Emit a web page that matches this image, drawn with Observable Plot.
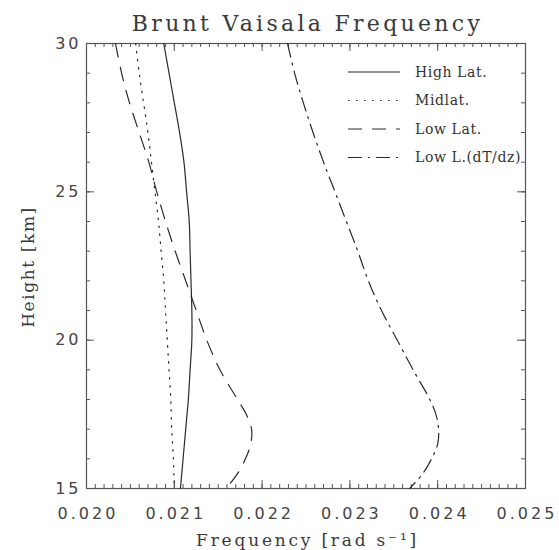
<!DOCTYPE html>
<html><head><meta charset="utf-8">
<script src="https://cdn.jsdelivr.net/npm/d3@7"></script>
<script src="https://cdn.jsdelivr.net/npm/@observablehq/plot@0.6"></script>
<style>
body{margin:0;background:#fff;}
#chart{width:559px;height:550px;}
g[aria-label="x-axis tick label"] text, g[aria-label="y-axis tick label"] text { letter-spacing: 3px; }
text[aria-label="title"], g[aria-label="title"] text { letter-spacing: 3.3px; }
text[aria-label="xlabel"], g[aria-label="xlabel"] text { letter-spacing: 2.8px; }
text[aria-label="ylabel"], g[aria-label="ylabel"] text { letter-spacing: 1.6px; }
g[aria-label="legend"] text { letter-spacing: 0.6px; }
</style>
</head><body><div id="chart"></div>
<script>
// ---- data ----
const heights  = [30, 29, 28, 27, 26, 25, 24, 23, 22, 21, 20, 19, 18, 17.5, 17, 16.5, 16, 15.5, 15];
const highLat  = [0.02088, 0.02094, 0.02100, 0.02106, 0.02111, 0.02114, 0.02117, 0.02118, 0.02119, 0.02120, 0.02120, 0.02118, 0.02116, 0.021145, 0.02113, 0.021115, 0.02110, 0.021085, 0.02107];
const midLat   = [0.02056, 0.02060, 0.02065, 0.02070, 0.02074, 0.02078, 0.02082, 0.02085, 0.02088, 0.02090, 0.02092, 0.02094, 0.02096, 0.020965, 0.02097, 0.02098, 0.02099, 0.020995, 0.02100];
const lowLat   = [0.02033, 0.02040, 0.02049, 0.02060, 0.02071, 0.02080, 0.02090, 0.02101, 0.02113, 0.02125, 0.02137, 0.02152, 0.02172, 0.02182, 0.02188, 0.02187, 0.02181, 0.02172, 0.02159];
const lowLdTdz = [0.02229, 0.02237, 0.02247, 0.02258, 0.02270, 0.02283, 0.02296, 0.02309, 0.02321, 0.02336, 0.02354, 0.02372, 0.02391, 0.02398, 0.02401, 0.02400, 0.02393, 0.02383, 0.02368];
const seriesNames = ["High Lat.", "Midlat.", "Low Lat.", "Low L.(dT/dz)"];
const xTickValues = [0.020, 0.021, 0.022, 0.023, 0.024, 0.025];
const yTickValues = [15, 20, 25, 30];
const xMinorTicks = d3.range(200, 251).map(i => i / 10000);
const yMinorTicks = d3.range(15, 31);
const titleText = "Brunt Vaisala Frequency";
const xLabelText = "Frequency [rad s\u207B\u00B9]";
const yLabelText = "Height [km]";

// ---- layout / style ----
const W = 559, H = 550, mt = 43, mr = 34, mb = 62, ml = 86;
const fw = W - ml - mr, fh = H - mt - mb;
const ink = "#2a2a2a", frameInk = "#555";
const dashes = [null, "1.5,6.5", "14,10", "14,6,2,6"];
const seriesValues = [highLat, midLat, lowLat, lowLdTdz];

const lineMarks = seriesNames.map((name, i) =>
  Plot.line(heights.map((h, j) => ({h, f: seriesValues[i][j]})), {
    x: "f", y: "h", curve: "catmull-rom", stroke: ink, strokeWidth: 1.2,
    strokeDasharray: dashes[i] || undefined
  })
);

const plot = Plot.plot({
  width: W, height: H,
  marginTop: mt, marginRight: mr, marginBottom: mb, marginLeft: ml,
  x: {domain: [0.020, 0.025]},
  y: {domain: [15, 30]},
  style: {background: "#fff", fontFamily: "DejaVu Sans", color: "#444"},
  marks: [
    Plot.tickX(xMinorTicks, {x: d => d, insetTop: fh - 4, stroke: frameInk}),
    Plot.tickX(xMinorTicks, {x: d => d, insetBottom: fh - 4, stroke: frameInk}),
    Plot.tickX(xTickValues, {x: d => d, insetTop: fh - 8, stroke: frameInk}),
    Plot.tickX(xTickValues, {x: d => d, insetBottom: fh - 8, stroke: frameInk}),
    Plot.tickY(yMinorTicks, {y: d => d, insetRight: fw - 4, stroke: frameInk}),
    Plot.tickY(yMinorTicks, {y: d => d, insetLeft: fw - 4, stroke: frameInk}),
    Plot.tickY(yTickValues, {y: d => d, insetRight: fw - 8, stroke: frameInk}),
    Plot.tickY(yTickValues, {y: d => d, insetLeft: fw - 8, stroke: frameInk}),
    Plot.frame({stroke: frameInk, strokeWidth: 1.2}),
    ...lineMarks,
    Plot.axisX({ticks: xTickValues, tickFormat: d3.format(".3f"), tickSize: 0, tickPadding: 19, dx: 1.5, label: null, fontSize: 16, fill: "#444"}),
    Plot.axisY({ticks: yTickValues, tickFormat: d => d, tickSize: 0, tickPadding: 5, label: null, fontSize: 16, fill: "#444"}),
    Plot.text([titleText], {text: d => d, frameAnchor: "top", dy: -13, dx: 1.5, lineAnchor: "bottom", fontSize: 22, fontFamily: "DejaVu Serif", fill: "#3a3a3a", ariaLabel: () => "title"}),
    Plot.text([xLabelText], {text: d => d, frameAnchor: "bottom", dy: 57, dx: 1.5, lineAnchor: "bottom", fontSize: 17, fontFamily: "DejaVu Serif", fill: "#3a3a3a", ariaLabel: () => "xlabel"}),
    Plot.text([yLabelText], {text: d => d, frameAnchor: "left", textAnchor: "middle", dx: -58, dy: 1, rotate: -90, fontSize: 17, fontFamily: "DejaVu Serif", fill: "#3a3a3a", ariaLabel: () => "ylabel"})
  ]
});
document.getElementById("chart").append(plot);

// ---- legend (inside the plot, top-right) ----
const svg = d3.select(plot);
const lg = svg.append("g").attr("aria-label", "legend").attr("text-anchor", "start");
seriesNames.forEach((name, i) => {
  const cy = 72 + i * 28.5;
  lg.append("line").attr("x1", 348).attr("x2", 400).attr("y1", cy).attr("y2", cy)
    .attr("stroke", ink).attr("stroke-width", 1.2)
    .attr("stroke-dasharray", dashes[i] || null);
  lg.append("text").attr("x", 415).attr("y", cy).attr("dy", "0.35em")
    .attr("text-anchor", "start")
    .attr("font-family", "DejaVu Serif").attr("font-size", 14).attr("fill", "#333")
    .text(name);
});
</script>
</body></html>
